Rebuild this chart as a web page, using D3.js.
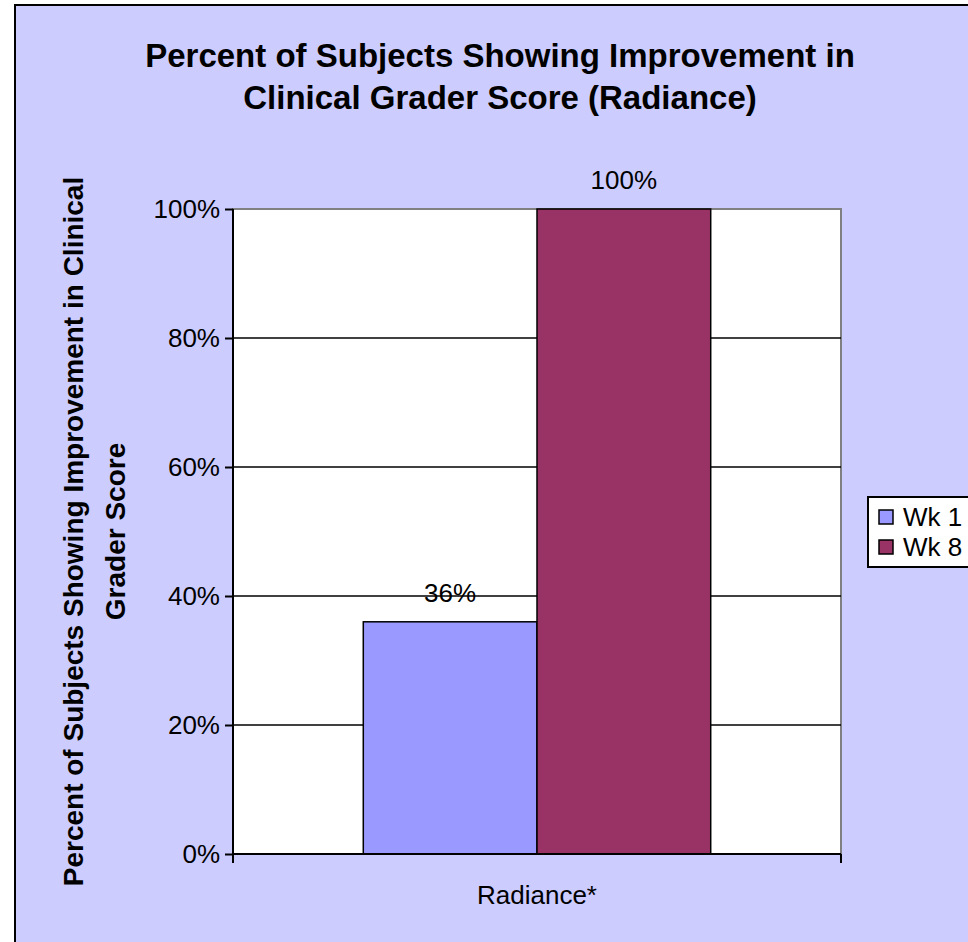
<!DOCTYPE html>
<html>
<head>
<meta charset="utf-8">
<script src="https://cdn.jsdelivr.net/npm/d3@7"></script>
<style>
  body { margin: 0; background: #ffffff; }
  text { font-family: "Liberation Sans", Arial, sans-serif; fill: #000; }
</style>
</head>
<body>
<div id="main"></div>
<script>
var categories = ["Radiance*"];
var seriesNames = ["Wk 1", "Wk 8"];
var wk1Values = [0.36];
var wk8Values = [1.00];
var yTicks = [0, 0.2, 0.4, 0.6, 0.8, 1.0];
var titleLines = ["Percent of Subjects Showing Improvement in", "Clinical Grader Score (Radiance)"];
var yTitleLines = ["Percent of Subjects Showing Improvement in Clinical", "Grader Score"];

var ctx = {
    w: 968,
    h: 942,
    plot: {left: 233, right: 841, top: 209, bottom: 854},
    colors: {"Wk 1": "#9999ff", "Wk 8": "#993366"}
};

var seriesValues = {"Wk 1": wk1Values, "Wk 8": wk8Values};

var createViz = function(){
    var svgEl = d3.select("#main").append("svg")
        .attr("width", ctx.w)
        .attr("height", ctx.h);

    // chart area background + frame
    svgEl.append("rect")
        .attr("x", 15).attr("y", 5)
        .attr("width", 990).attr("height", 960)
        .attr("fill", "#ccccff")
        .attr("stroke", "#000")
        .attr("stroke-width", 2);

    var p = ctx.plot;
    var y = d3.scaleLinear().domain([0, 1]).range([p.bottom, p.top]);
    var x0 = d3.scaleBand().domain(categories).range([p.left, p.right]);
    var x1 = d3.scaleBand().domain(seriesNames)
        .range([0, x0.bandwidth()])
        .paddingInner(0).paddingOuter(0.75);

    // plot area
    svgEl.append("rect")
        .attr("x", p.left).attr("y", p.top)
        .attr("width", p.right - p.left).attr("height", p.bottom - p.top)
        .attr("fill", "#ffffff")
        .attr("stroke", "#808080")
        .attr("stroke-width", 2);

    // gridlines
    svgEl.append("g").selectAll("line.grid")
        .data(yTicks.filter(function(d){ return d > 0 && d < 1; }))
        .enter().append("line")
        .attr("x1", p.left).attr("x2", p.right)
        .attr("y1", function(d){ return y(d); })
        .attr("y2", function(d){ return y(d); })
        .attr("stroke", "#000")
        .attr("stroke-width", 1.3);

    // bars
    var barG = svgEl.append("g");
    seriesNames.forEach(function(s){
        var rows = categories.map(function(c, i){ return {cat: c, v: seriesValues[s][i]}; });
        barG.selectAll("rect.s" + s.replace(" ", ""))
            .data(rows)
            .enter().append("rect")
            .attr("x", function(d){ return x0(d.cat) + x1(s); })
            .attr("y", function(d){ return y(d.v); })
            .attr("width", x1.bandwidth())
            .attr("height", function(d){ return y(0) - y(d.v); })
            .attr("fill", ctx.colors[s])
            .attr("stroke", "#000")
            .attr("stroke-width", 1.5);
        barG.selectAll("text.l" + s.replace(" ", ""))
            .data(rows)
            .enter().append("text")
            .attr("x", function(d){ return x0(d.cat) + x1(s) + x1.bandwidth() / 2; })
            .attr("y", function(d){ return y(d.v) - 20; })
            .attr("text-anchor", "middle")
            .attr("font-size", "26px")
            .text(function(d){ return Math.round(d.v * 100) + "%"; });
    });

    // y axis
    var yAxis = d3.axisLeft(y).tickValues(yTicks)
        .tickFormat(d3.format(".0%")).tickSize(8).tickPadding(5);
    var yG = svgEl.append("g").attr("transform", "translate(" + p.left + ",0)").call(yAxis);
    yG.select(".domain").attr("stroke", "#000").attr("stroke-width", 2).attr("d", "M0," + p.top + "V" + p.bottom);
    yG.selectAll(".tick line").attr("stroke", "#000").attr("stroke-width", 2);
    yG.selectAll(".tick text").attr("font-size", "26px").attr("font-family", "Liberation Sans, Arial, sans-serif").attr("fill", "#000");

    // x axis
    var xAxis = d3.axisBottom(x0).tickSize(0).tickPadding(32);
    var xG = svgEl.append("g").attr("transform", "translate(0," + p.bottom + ")").call(xAxis);
    xG.select(".domain").attr("stroke", "#000").attr("stroke-width", 2).attr("d", "M" + p.left + ",0H" + p.right);
    xG.selectAll(".tick text").attr("font-size", "26px").attr("font-family", "Liberation Sans, Arial, sans-serif").attr("fill", "#000");
    xG.selectAll("line.edge")
        .data([x0.range()[0], x0.range()[1]])
        .enter().append("line")
        .attr("x1", function(d){ return d; }).attr("x2", function(d){ return d; })
        .attr("y1", 0).attr("y2", 9)
        .attr("stroke", "#000").attr("stroke-width", 2);

    // title
    svgEl.append("g").selectAll("text")
        .data(titleLines)
        .enter().append("text")
        .attr("x", 500)
        .attr("y", function(d, i){ return 67 + i * 42; })
        .attr("text-anchor", "middle")
        .attr("font-size", "33px")
        .attr("font-weight", "bold")
        .text(function(d){ return d; });

    // y title
    var cy = (p.top + p.bottom) / 2;
    svgEl.append("g").selectAll("text")
        .data(yTitleLines)
        .enter().append("text")
        .attr("transform", function(d, i){ return "translate(" + (83 + i * 42) + "," + cy + ") rotate(-90)"; })
        .attr("text-anchor", "middle")
        .attr("font-size", "28px")
        .attr("font-weight", "bold")
        .text(function(d){ return d; });

    // legend
    var lg = svgEl.append("g").attr("transform", "translate(868,497)");
    lg.append("rect")
        .attr("x", 0).attr("y", 0)
        .attr("width", 130).attr("height", 70)
        .attr("fill", "#fff")
        .attr("stroke", "#000")
        .attr("stroke-width", 2);
    var items = lg.selectAll("g.item").data(seriesNames).enter().append("g")
        .attr("transform", function(d, i){ return "translate(11," + (13 + i * 30) + ")"; });
    items.append("rect")
        .attr("width", 14).attr("height", 14)
        .attr("fill", function(d){ return ctx.colors[d]; })
        .attr("stroke", "#000").attr("stroke-width", 1.5);
    items.append("text")
        .attr("x", 24).attr("y", 16)
        .attr("font-size", "26px")
        .text(function(d){ return d; });
};

createViz();
</script>
</body>
</html>
